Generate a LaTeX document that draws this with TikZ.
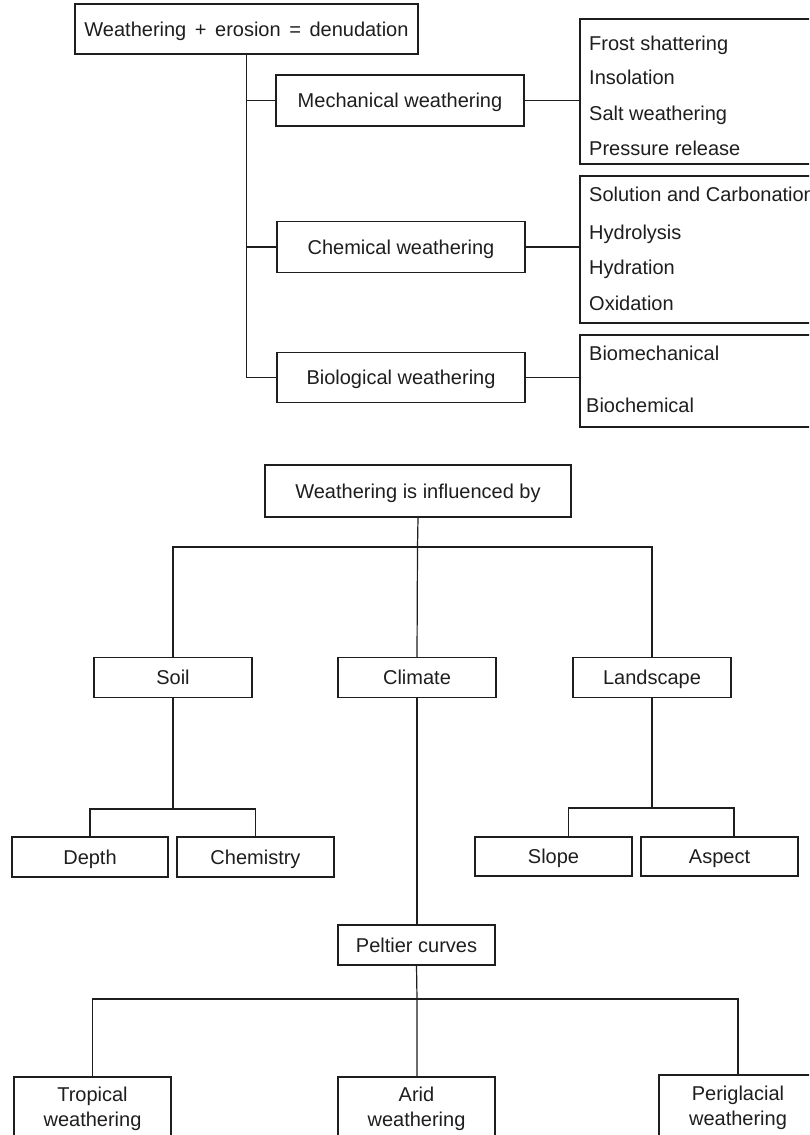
\documentclass[tikz,border=0pt]{standalone}
\usepackage{fontspec}
\setmainfont{Liberation Sans}
\usetikzlibrary{calc}
\definecolor{ink}{HTML}{1E1E1E}
\begin{document}
\begin{tikzpicture}[x=1pt,y=-1pt,
  box/.style={draw=ink, line width=1.3pt, inner sep=0pt, text=ink,
    font=\fontsize{20}{24}\selectfont, text height=14.5pt, text depth=0pt},
  box2/.style={draw=ink, line width=1.3pt, inner sep=0pt, text=ink,
    font=\fontsize{20}{25}\selectfont, align=center},
  frame/.style={draw=ink, line width=1.3pt, inner sep=0pt},
  item/.style={anchor=base west, inner sep=0pt, text=ink, font=\fontsize{20}{24}\selectfont},
  link/.style={draw=ink, line width=1.2pt}]
\clip (0,0) rectangle (809,1135);
\fill[white] (0,0) rectangle (809,1135);

% ---------- upper diagram ----------
\node[box, minimum width=343, minimum height=50] (top) at (246.5,29) {Weathering\hspace{3pt} + \hspace{3pt}erosion\hspace{3pt} = \hspace{3pt}denudation};
\node[box, minimum width=248, minimum height=51] (mech) at (400,100.5) {Mechanical weathering};
\node[box, minimum width=248, minimum height=51] (chem) at (401,247) {Chemical weathering};
\node[box, minimum width=248, minimum height=50] (bio) at (401,377.5) {Biological weathering};

\node[frame, minimum width=235, minimum height=145] (r1) at (697.5,91.5) {};
\node[frame, minimum width=235, minimum height=147] (r2) at (697.5,249.5) {};
\node[frame, minimum width=235, minimum height=92] (r3) at (697.5,381) {};

\node[item] (i1) at (589,50) {Frost shattering};
\node[item] (i2) at (589,84) {Insolation};
\node[item] (i3) at (589,120) {Salt weathering};
\node[item] (i4) at (589,155) {Pressure release};
\node[item] (i5) at (589,201) {Solution and Carbonation};
\node[item] (i6) at (589,239) {Hydrolysis};
\node[item] (i7) at (589,274) {Hydration};
\node[item] (i8) at (589,310) {Oxidation};
\node[item] (i9) at (589,360) {Biomechanical};
\node[item] (i10) at (586,412) {Biochemical};

\draw[link] (top.south) |- (bio.west);
\draw[link] (top.south |- mech.west) -- (mech.west);
\draw[link] (top.south |- chem.west) -- (chem.west);
\draw[link] (mech.east) -- (mech.east -| r1.west);
\draw[link] (chem.east) -- (chem.east -| r2.west);
\draw[link] (bio.east) -- (bio.east -| r3.west);

% ---------- lower diagram ----------
\node[box, minimum width=306, minimum height=52] (inf) at (418,491) {Weathering is influenced by};
\node[box, minimum width=158, minimum height=40] (soil) at (173,677.5) {Soil};
\node[box, minimum width=158, minimum height=40] (clim) at (417,677.5) {Climate};
\node[box, minimum width=158, minimum height=40] (land) at (652,677.5) {Landscape};
\node[box, minimum width=156, minimum height=40] (depth) at (90,857) {Depth};
\node[box, minimum width=157, minimum height=40] (chemy) at (255.5,857) {Chemistry};
\node[box, minimum width=157, minimum height=39] (slope) at (553.5,856.5) {Slope};
\node[box, minimum width=157, minimum height=39] (aspect) at (719.5,856.5) {Aspect};
\node[box, minimum width=157, minimum height=40] (pel) at (416.5,945) {Peltier curves};
\node[box2, minimum width=157, minimum height=63] (trop) at (92.5,1108.5) {Tropical\\weathering};
\node[box2, minimum width=157, minimum height=63] (arid) at (416.5,1108.5) {Arid\\weathering};
\node[box2, minimum width=158, minimum height=65] (peri) at (738,1107.5) {Periglacial\\weathering};

\coordinate (b1) at (417.5,547);
\coordinate (b2) at (173,809);
\coordinate (b3) at (652,808);
\coordinate (b4) at (417,999);

\draw[link] (inf.south) -- (b1) -- (clim.north);
\draw[link] (soil.north) |- (b1) -| (land.north);
\draw[link] (soil.south) -- (b2);
\draw[link] (depth.north) |- (b2) -| (chemy.north);
\draw[link] (land.south) -- (b3);
\draw[link] ([xshift=15pt]slope.north) |- (b3) -| ([xshift=14.5pt]aspect.north);
\draw[link] (clim.south) -- (clim.south |- pel.north);
\draw[link] (pel.south) -- (b4) -- (b4 |- arid.north);
\draw[link] (trop.north) |- (b4) -| (peri.north);
\end{tikzpicture}
\end{document}
